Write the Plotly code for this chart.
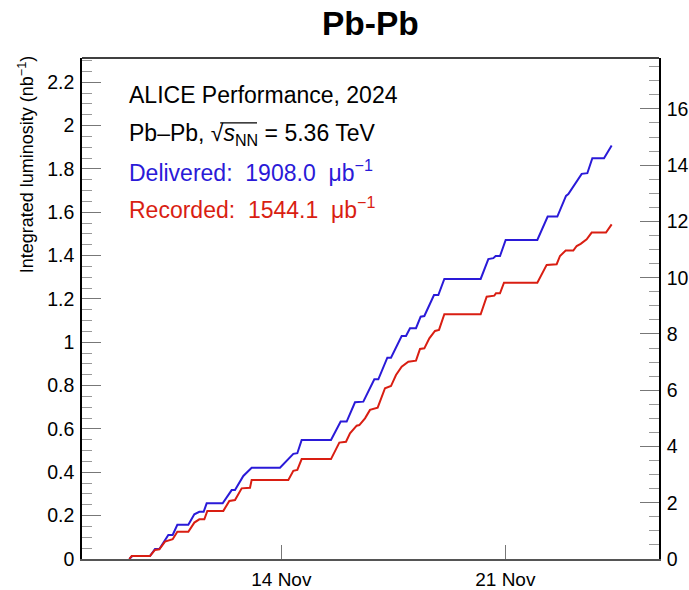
import plotly.graph_objects as go

# ---------------- data ----------------
delivered_time = [
    "2024-11-09 06:00", "2024-11-09 08:15", "2024-11-09 21:30", "2024-11-10 01:15",
    "2024-11-10 04:30", "2024-11-10 11:15", "2024-11-10 14:30", "2024-11-10 18:00",
    "2024-11-11 02:15", "2024-11-11 06:45", "2024-11-11 10:30", "2024-11-11 13:45",
    "2024-11-11 16:00", "2024-11-12 04:00", "2024-11-12 10:45", "2024-11-12 13:15",
    "2024-11-12 19:30", "2024-11-13 01:45", "2024-11-13 23:00", "2024-11-14 09:00",
    "2024-11-14 12:00", "2024-11-14 15:15", "2024-11-15 13:15", "2024-11-15 20:30",
    "2024-11-16 01:00", "2024-11-16 07:15", "2024-11-16 13:30", "2024-11-16 21:45",
    "2024-11-17 00:45", "2024-11-17 07:30", "2024-11-17 10:15", "2024-11-17 18:15",
    "2024-11-17 21:30", "2024-11-18 00:30", "2024-11-18 05:00", "2024-11-18 08:30",
    "2024-11-18 11:15", "2024-11-18 18:30", "2024-11-18 21:45", "2024-11-19 02:15",
    "2024-11-20 05:30", "2024-11-20 11:15", "2024-11-20 15:00", "2024-11-20 16:45",
    "2024-11-20 20:00", "2024-11-21 00:15", "2024-11-22 00:00", "2024-11-22 07:45",
    "2024-11-22 15:00", "2024-11-22 21:30", "2024-11-22 23:15", "2024-11-23 09:15",
    "2024-11-23 13:30", "2024-11-23 17:15", "2024-11-24 02:00", "2024-11-24 07:45",
]
delivered_lumi = [
    0.000, 0.014, 0.014, 0.046, 0.046, 0.111, 0.111, 0.158,
    0.158, 0.206, 0.218, 0.218, 0.257, 0.257, 0.318, 0.318,
    0.383, 0.421, 0.421, 0.485, 0.488, 0.549, 0.549, 0.634,
    0.634, 0.723, 0.726, 0.829, 0.829, 0.929, 0.929, 1.029,
    1.029, 1.065, 1.065, 1.118, 1.121, 1.218, 1.218, 1.292,
    1.292, 1.384, 1.388, 1.398, 1.398, 1.472, 1.472, 1.580,
    1.580, 1.675, 1.684, 1.777, 1.780, 1.849, 1.849, 1.908,
]

recorded_time = [
    "2024-11-09 06:00", "2024-11-09 07:45", "2024-11-09 21:30", "2024-11-10 01:15",
    "2024-11-10 04:30", "2024-11-10 08:45", "2024-11-10 14:30", "2024-11-10 18:00",
    "2024-11-11 02:15", "2024-11-11 06:45", "2024-11-11 10:30", "2024-11-11 14:15",
    "2024-11-11 16:30", "2024-11-12 04:30", "2024-11-12 09:00", "2024-11-12 13:15",
    "2024-11-12 18:15", "2024-11-13 00:30", "2024-11-13 01:45", "2024-11-14 05:15",
    "2024-11-14 09:00", "2024-11-14 12:00", "2024-11-14 15:15", "2024-11-15 13:15",
    "2024-11-15 19:30", "2024-11-16 00:30", "2024-11-16 03:30", "2024-11-16 08:30",
    "2024-11-16 10:30", "2024-11-16 14:45", "2024-11-16 18:30", "2024-11-17 00:15",
    "2024-11-17 05:45", "2024-11-17 10:15", "2024-11-17 14:00", "2024-11-17 18:15",
    "2024-11-17 23:15", "2024-11-18 05:00", "2024-11-18 08:00", "2024-11-18 11:15",
    "2024-11-18 15:00", "2024-11-18 19:15", "2024-11-18 22:15", "2024-11-19 02:15",
    "2024-11-20 05:30", "2024-11-20 10:00", "2024-11-20 15:45", "2024-11-20 17:00",
    "2024-11-20 20:00", "2024-11-20 23:00", "2024-11-22 00:00", "2024-11-22 07:00",
    "2024-11-22 14:30", "2024-11-22 17:00", "2024-11-22 21:15", "2024-11-23 03:00",
    "2024-11-23 05:30", "2024-11-23 08:30", "2024-11-23 13:00", "2024-11-23 16:45",
    "2024-11-24 03:30", "2024-11-24 07:45",
]
recorded_lumi = [
    0.000, 0.014, 0.014, 0.042, 0.045, 0.080, 0.091, 0.126,
    0.126, 0.168, 0.183, 0.183, 0.222, 0.222, 0.268, 0.272,
    0.326, 0.329, 0.365, 0.365, 0.407, 0.411, 0.461, 0.461,
    0.537, 0.541, 0.580, 0.615, 0.618, 0.649, 0.688, 0.698,
    0.788, 0.798, 0.849, 0.887, 0.910, 0.915, 0.969, 0.972,
    1.018, 1.052, 1.057, 1.129, 1.129, 1.210, 1.215, 1.226,
    1.226, 1.275, 1.275, 1.357, 1.360, 1.398, 1.423, 1.423,
    1.444, 1.454, 1.475, 1.506, 1.506, 1.544,
]

x_range = ["2024-11-07 18:30", "2024-11-25 19:15"]
x_tick_vals = ["2024-11-14", "2024-11-21"]
x_tick_text = ["14 Nov", "21 Nov"]
y_left_range = [0, 2.3115]
y_right_range = [0, 17.81]

title_text = "<b>Pb-Pb</b>"
y_title = "Integrated luminosity (nb<sup>\u22121</sup>)"
label_lines = [
    ("ALICE Performance, 2024", "black"),
    ("Pb\u2013Pb, \u221a<i>s</i><sub>NN</sub> = 5.36 TeV", "black"),
    ("Delivered:\u00a0\u00a01908.0\u00a0\u00a0\u03bcb<sup>\u22121</sup>", "#2a1ad8"),
    ("Recorded:\u00a0\u00a01544.1\u00a0\u00a0\u03bcb<sup>\u22121</sup>", "#d91e12"),
]

# ---------------- figure ----------------
FONT = "Liberation Sans, Arial, Helvetica, sans-serif"
BLUE = "#2a1ad8"
RED = "#d91e12"

fig = go.Figure()
fig.add_trace(go.Scatter(x=delivered_time, y=delivered_lumi, mode="lines",
                         line=dict(color=BLUE, width=2), showlegend=False))
fig.add_trace(go.Scatter(x=recorded_time, y=recorded_lumi, mode="lines",
                         line=dict(color=RED, width=2), showlegend=False))
fig.add_trace(go.Scatter(x=[None], y=[None], yaxis="y2", mode="lines",
                         showlegend=False, hoverinfo="skip"))

fig.update_layout(
    width=689, height=590,
    margin=dict(l=82, r=30, t=58, b=31, autoexpand=False),
    paper_bgcolor="white", plot_bgcolor="white",
    font=dict(family=FONT, color="black", size=19),
    xaxis=dict(
        type="date", range=x_range, tickmode="array",
        tickvals=x_tick_vals, ticktext=x_tick_text,
        ticks="inside", ticklen=14, tickwidth=1, tickcolor="#777",
        showgrid=False, zeroline=False, automargin=False,
        showline=True, linecolor="#555", linewidth=2, mirror=False,
        tickfont=dict(size=19), ticklabelstandoff=2,
    ),
    yaxis=dict(
        range=y_left_range, dtick=0.2, tick0=0,
        ticks="inside", ticklen=19, tickwidth=1, tickcolor="#777",
        minor=dict(dtick=0.05, ticks="inside", ticklen=10, tickcolor="#999", showgrid=False),
        showgrid=False, zeroline=False, automargin=False,
        showline=True, linecolor="black", linewidth=1.5,
        tickfont=dict(size=19.5), ticklabelstandoff=2,
    ),
    yaxis2=dict(
        overlaying="y", side="right", anchor="x",
        range=y_right_range, dtick=2, tick0=0,
        ticks="inside", ticklen=19, tickwidth=1, tickcolor="#777",
        minor=dict(dtick=0.5, ticks="inside", ticklen=10, tickcolor="#999", showgrid=False),
        showgrid=False, zeroline=False, automargin=False,
        showline=True, linecolor="black", linewidth=1.5,
        tickfont=dict(size=19.5), ticklabelstandoff=2,
    ),
)

# top border of the frame
fig.add_shape(type="line", xref="paper", yref="paper", x0=0, x1=1, y0=1, y1=1,
              line=dict(color="black", width=1.5))

# title
fig.add_annotation(text=title_text, xref="paper", yref="paper", x=0.5, y=1.068,
                   xanchor="center", yanchor="middle", showarrow=False,
                   font=dict(family=FONT, size=33.5, color="black"))
# y axis title
fig.add_annotation(text=y_title, xref="paper", yref="paper", x=-0.097, y=0.786,
                   xanchor="center", yanchor="middle", textangle=-90, showarrow=False,
                   font=dict(family=FONT, size=18, color="black"))

# text block
line_y = [0.927, 0.848, 0.7735, 0.7006]
for (txt, col), yy in zip(label_lines, line_y):
    fig.add_annotation(text=txt, xref="paper", yref="paper", x=0.078, y=yy,
                       xanchor="left", yanchor="middle", showarrow=False,
                       font=dict(family=FONT, size=23, color=col))

# overbar of the square-root sign (decoration of the text)
fig.add_shape(type="line", xref="paper", yref="paper",
              x0=0.2395, x1=0.3033, y0=0.8705, y1=0.8705,
              line=dict(color="black", width=1.2))

fig.write_html("out.html")
